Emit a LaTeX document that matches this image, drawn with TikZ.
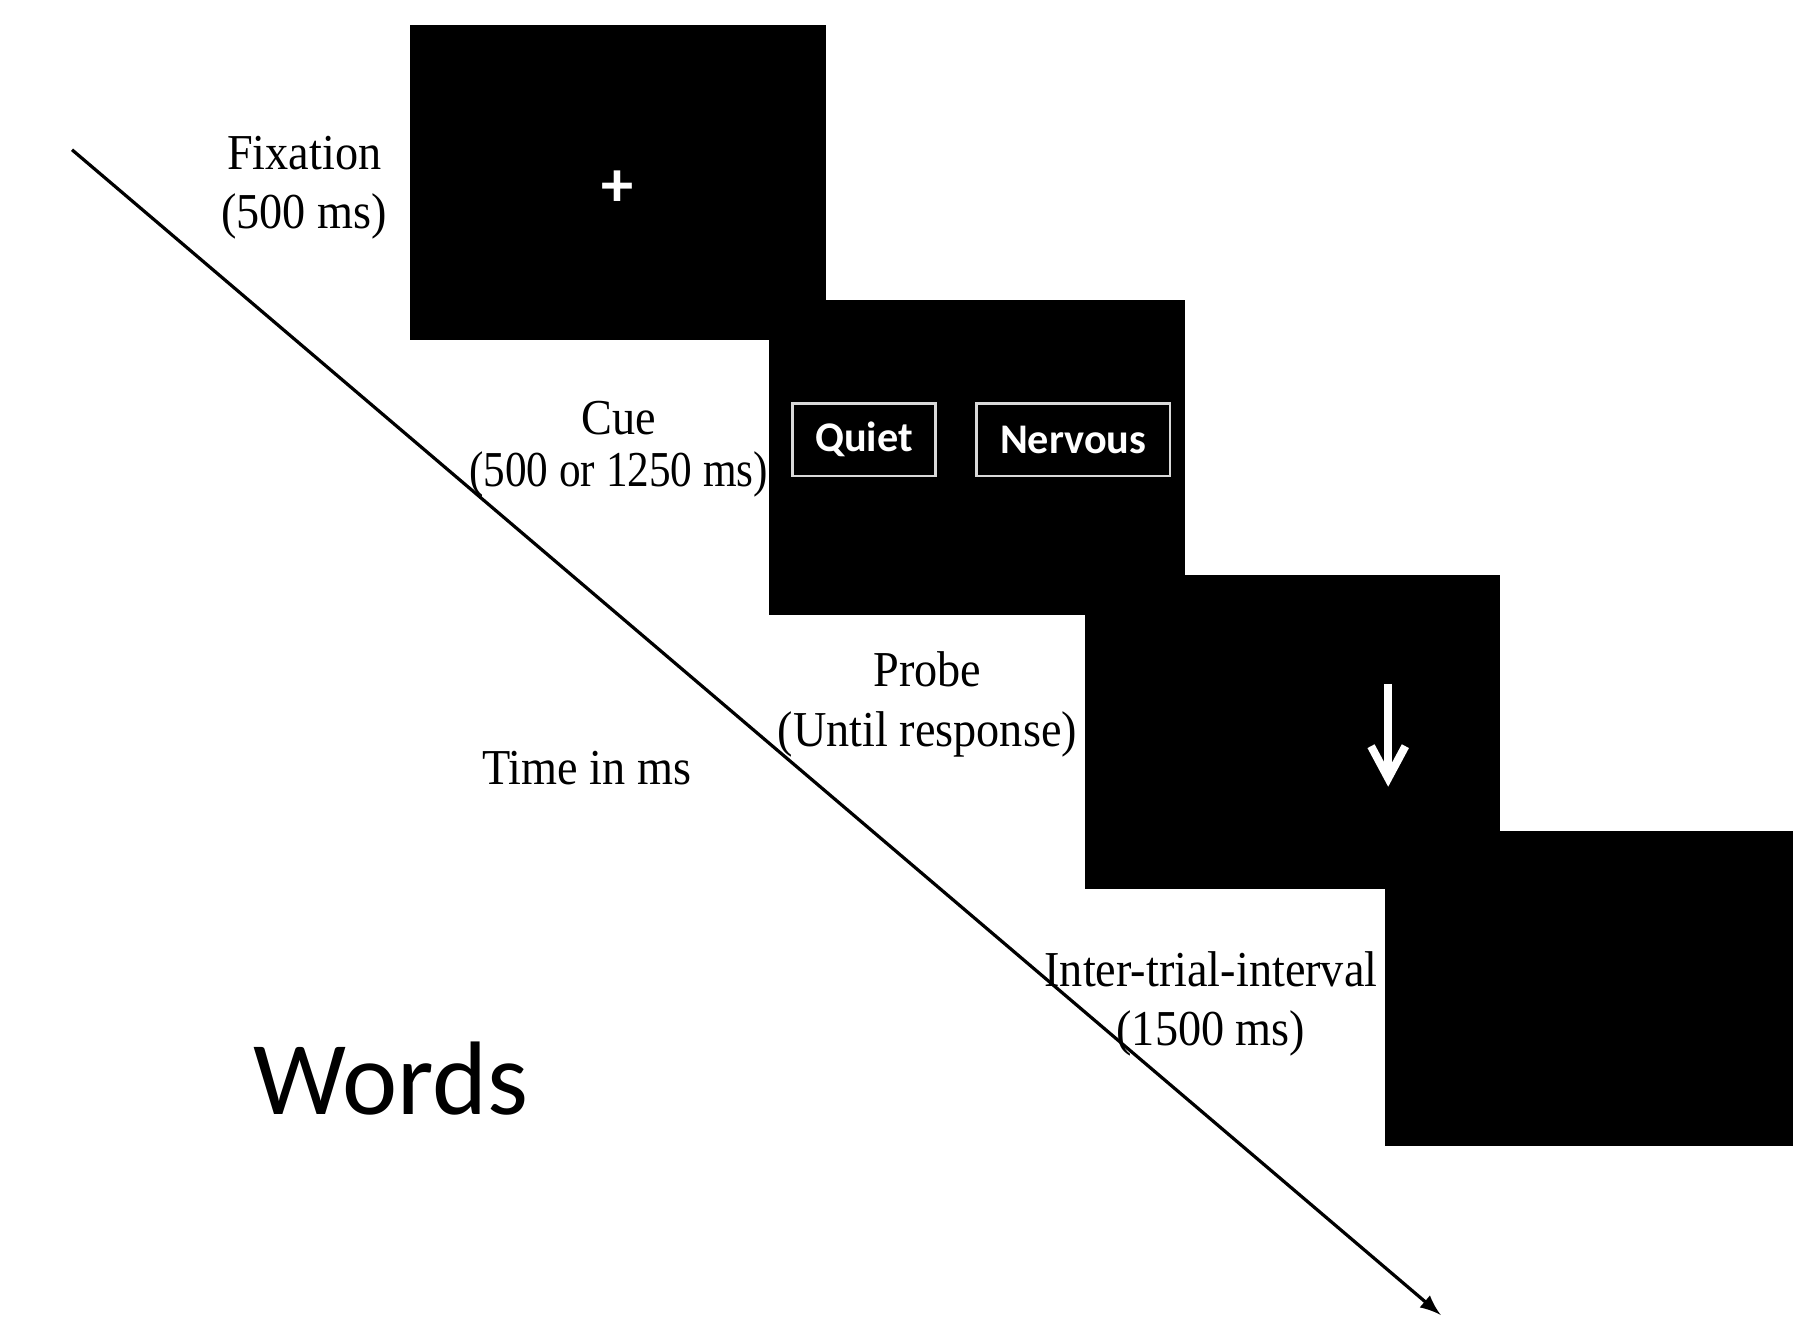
\documentclass[tikz,border=0pt]{standalone}
\usepackage{fontspec}
\setmainfont[FakeStretch=0.92]{Liberation Serif}
\newfontfamily\calibri{Carlito}
\newfontfamily\narrowserif[FakeStretch=0.86]{Liberation Serif}
\usetikzlibrary{arrows.meta}
\begin{document}
\begin{tikzpicture}[>=latex,x=0.01cm,y=-0.01cm,
	screen/.style={fill=black,minimum width=3.63cm,minimum height=2.75cm,inner sep=0pt},
	wordbox/.style={draw=white!85!black,line width=0.6pt,minimum height=0.63cm,inner sep=0pt,
		text=white,font=\calibri\bfseries\fontsize{10.5}{12}\selectfont},
	caption/.style={align=center,font=\fontsize{12.5}{14.8}\selectfont},
	probearrow/.style={white,line width=2pt,-{Straight Barb[length=0.28cm,width=0.3cm]}}]
	\useasboundingbox (0,0) rectangle (1568,1155);
	
	% screens of one trial
	\node[screen] (fixscreen) at (540.5,159.5) {};
	\node[screen] (cuescreen) at (854.5,400) {};
	\node[screen] (probescreen) at (1130.5,640) {};
	\node[screen,minimum width=3.57cm] (itiscreen) at (1389.5,864.5) {};
	
	\node[text=white,font=\calibri\bfseries\fontsize{16}{16}\selectfont] (fixcross) at (540,165) {+};
	\node[wordbox,minimum width=1.25cm] (quiet) at (755.5,384.5) {Quiet};
	\node[wordbox,minimum width=1.69cm] (nervous) at (938.5,384.5) {Nervous};
	
	\coordinate (arrtop) at (1214,598);
	\coordinate (arrtip) at (1214,688);
	\draw[probearrow] (arrtop) -- (arrtip);
	
	% time axis
	\coordinate (tstart) at (63,131);
	\coordinate (tend) at (1260,1150);
	\draw[->,line width=0.8pt] (tstart) -- (tend);
	
	\node[caption] (fixlabel) at (266,164) {Fixation\\(500 ms)};
	\node[caption] (cuelabel) at (541,393) {Cue\\[-2pt]{\narrowserif(500 or 1250 ms)}};
	\node[caption] (probelabel) at (811,616) {Probe\\(Until response)};
	\node[caption] (timelabel) at (513,672) {Time in ms};
	\node[caption] (itilabel) at (1059,878) {Inter-trial-interval\\(1500 ms)};
	
	\node[font=\calibri\fontsize{26}{30}\selectfont] (words) at (342,943) {Words};
\end{tikzpicture}
\end{document}
